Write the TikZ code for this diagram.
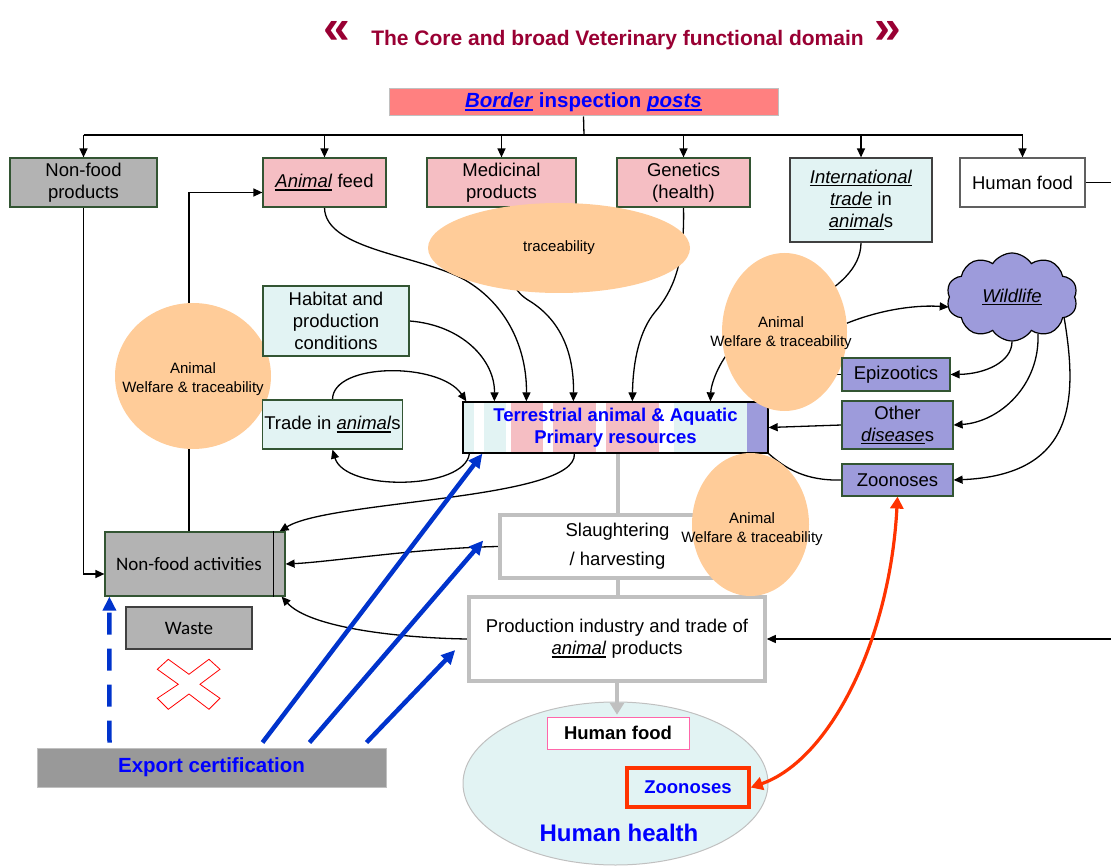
\documentclass[tikz,border=0pt]{standalone}
\usepackage{fontspec}
\setmainfont{Liberation Sans}
\newfontfamily\carlito{Carlito}
\usetikzlibrary{arrows.meta,shapes.geometric,shapes.symbols,calc}
\pgfdeclarelayer{bg}
\pgfsetlayers{bg,main}
\definecolor{salmon}{RGB}{255,128,128}
\definecolor{pinkc}{RGB}{245,190,195}
\definecolor{lcyan}{RGB}{226,243,243}
\definecolor{grayc}{RGB}{179,179,179}
\definecolor{exgray}{RGB}{153,153,153}
\definecolor{dkgreen}{RGB}{51,85,51}
\definecolor{peach}{RGB}{255,204,153}
\definecolor{purp}{RGB}{157,155,219}
\definecolor{tblue}{RGB}{0,0,255}
\definecolor{barc}{RGB}{0,51,204}
\definecolor{tred}{RGB}{153,0,51}
\definecolor{redo}{RGB}{255,51,0}
\definecolor{lgray}{RGB}{192,192,192}
\definecolor{dkgray}{RGB}{64,64,64}
\definecolor{mgray}{RGB}{96,96,96}
\definecolor{hpink}{RGB}{255,102,170}
\newcommand{\myul}[1]{\leavevmode\setbox0\hbox{#1}\rlap{\rule[-0.15em]{\wd0}{0.075em}}\box0\relax}
\newcommand{\fsbox}{\fontsize{18.5}{22}\selectfont}
\newcommand{\fsell}{\fontsize{15}{19}\selectfont}
\begin{document}
\begin{tikzpicture}[x=1pt,y=-1pt,
  box/.style={draw=dkgreen, line width=1.2pt, inner sep=2pt, align=center, font=\fsbox, text=black},
  gbox/.style={draw=lgray, line width=3.5pt, fill=white, inner sep=2pt, align=center, font=\fsbox},
  ell/.style={ellipse, fill=peach, draw=none, inner sep=0pt},
  elltext/.style={font=\fsell, align=center, inner sep=0pt},
  conn/.style={line width=1.3pt},
  arr/.style={line width=1.3pt, -{Triangle[length=9pt,width=8pt]}},
  barr/.style={draw=barc, line width=4.5pt, -{Triangle[length=14pt,width=13pt]}},
  gline/.style={draw=lgray, line width=4pt},
  redarr/.style={draw=redo, line width=3.2pt, {Triangle[length=12pt,width=13pt]}-{Triangle[length=12pt,width=13pt]}}
]
\useasboundingbox (0,0) rectangle (1111,866);

% title
\node[font=\fontsize{21}{24}\selectfont\bfseries, text=tred, anchor=base] (title) at (617.5,46) {The Core and broad Veterinary functional domain};
\node[font=\fontsize{48}{50}\selectfont\bfseries, text=tred] (lq) at (337,32) {«};
\node[font=\fontsize{48}{50}\selectfont\bfseries, text=tred] (rq) at (888,32) {»};

\coordinate (bus) at (584,135);

% top row
\node[box, fill=salmon, draw=lgray, line width=1pt, minimum width=389pt, minimum height=27pt, font=\fontsize{20.5}{24}\selectfont\bfseries, text=tblue] (bip) at (583.5,102.5) {\myul{\textit{Border}} inspection \myul{\textit{posts}}};
\node[box, fill=grayc, minimum width=147pt, minimum height=49pt] (nfp) at (83.5,182.5) {Non-food\\products};
\node[box, fill=pinkc, minimum width=123pt, minimum height=49pt] (afeed) at (324.5,182.5) {\myul{\textit{Animal}} feed};
\node[box, fill=pinkc, minimum width=149pt, minimum height=49pt] (med) at (501.5,182.5) {Medicinal\\products};
\node[box, fill=pinkc, minimum width=133pt, minimum height=49pt] (gen) at (683.5,182.5) {Genetics\\(health)};
\node[box, fill=lcyan, draw=dkgray, minimum width=142pt, minimum height=84pt] (intl) at (861,200) {\myul{\textit{International}}\\\myul{\textit{trade}} in\\\myul{\textit{animal}}s};
\node[box, fill=white, draw=mgray, minimum width=125pt, minimum height=49pt] (hfood) at (1022.5,182.5) {Human food};

% left side
\node[ell, minimum width=156pt, minimum height=146pt] (lcirc) at (193,376) {};
\node[elltext] (lcirctx) at (193,379) {Animal\\Welfare \& traceability};
\node[box, fill=lcyan, minimum width=146pt, minimum height=70pt] (habitat) at (336,321) {Habitat and\\production\\conditions};
\node[box, fill=lcyan, minimum width=139pt, minimum height=49pt] (trade) at (332.5,424.5) {Trade in \myul{\textit{animal}}s};
\node[box, fill=grayc, minimum width=180pt, minimum height=64pt, font=\carlito\fontsize{19}{22}\selectfont] (nfa) at (195,564) {Non-food activities\hspace{12pt}};
\draw[line width=1.2pt] ([xshift=-12pt]nfa.north east) -- ([xshift=-12pt]nfa.south east);
\node[box, fill=grayc, draw=dkgray, minimum width=126pt, minimum height=42pt, font=\carlito\fontsize{19}{22}\selectfont] (waste) at (189,628) {Waste};
\draw[red, line width=0.8pt] (168.3,659.3) -- (189,674.3) -- (209,659.3) -- (220,669.3) -- (200,684.3) -- (220,698.3) -- (209,709.3) -- (189,694) -- (168.3,709.3) -- (157.3,698.3) -- (178.3,684.3) -- (157.3,669.3) -- cycle;
\node[box, fill=exgray, draw=lgray, line width=1pt, minimum width=349pt, minimum height=39pt, font=\fontsize{20.5}{24}\selectfont\bfseries, text=tblue] (export) at (211.5,767.5) {Export certification};

% terrestrial stripes
\foreach \a/\b/\c in {463/474/lcyan, 474/484/white, 484/506/lcyan, 506/511/white, 511/543/pinkc, 543/553/white, 553/596/pinkc, 596/606/white, 606/659/pinkc, 659/674/white, 674/747/lcyan, 747/768/purp}
  \fill[\c] (\a,402) rectangle (\b,453);
\node[draw=black, line width=1.3pt, minimum width=305pt, minimum height=51pt, inner sep=0pt, align=center, font=\fontsize{18.5}{22}\selectfont\bfseries, text=tblue] (terr) at (615.5,427.5) {Terrestrial animal \& Aquatic\\Primary resources};

% traceability ellipse
\node[ell, minimum width=262pt, minimum height=90pt] (trace) at (559,248) {};
\node[elltext] (tracetx) at (559,248) {traceability};

% production chain
\node[gbox, minimum width=235pt, minimum height=63pt] (slaughter) at (617.5,546.5) {Slaughtering\\[7pt]/ harvesting};
\node[gbox, minimum width=296pt, minimum height=84pt] (prod) at (617,639) {Production industry and trade of\\\myul{\textit{animal}} products};

% right ellipses
\node[ell, minimum width=125pt, minimum height=158pt] (rell1) at (784.5,332) {};
\node[elltext] (rell1tx) at (781,333) {Animal\\Welfare \& traceability};
\node[ell, minimum width=117pt, minimum height=143pt] (rell2) at (750.5,524.5) {};
\node[elltext] (rell2tx) at (752,529) {Animal\\Welfare \& traceability};

% wildlife and diseases
\node[cloud, cloud puffs=10, cloud puff arc=115, aspect=1.5, minimum width=131pt, minimum height=88pt, inner sep=0pt, fill=purp, draw=black, line width=1.2pt, font=\fsbox] (wild) at (1012,297) {\myul{\textit{Wildlife}}};
\node[box, fill=purp, minimum width=108pt, minimum height=33pt] (epi) at (896,374.5) {Epizootics};
\node[box, fill=purp, minimum width=111pt, minimum height=48pt] (other) at (897.5,425) {Other\\\myul{\textit{disease}}s};
\node[box, fill=purp, minimum width=111pt, minimum height=32pt] (zoo) at (897.5,480) {Zoonoses};

% human health
\node[ellipse, fill=lcyan, draw=lgray, line width=1pt, minimum width=305pt, minimum height=163pt, inner sep=0pt] (hh) at (615.5,783.5) {};
\node[font=\fontsize{24}{28}\selectfont\bfseries, text=tblue, inner sep=0pt] (hhtx) at (619,833) {Human health};
\node[draw=hpink, fill=white, line width=1pt, minimum width=142pt, minimum height=32pt, inner sep=0pt, font=\fontsize{18.5}{22}\selectfont\bfseries] (hfood2) at (618,733) {Human food};
\node[draw=redo, line width=3.5pt, minimum width=122pt, minimum height=39pt, inner sep=0pt, font=\fontsize{18.5}{22}\selectfont\bfseries, text=tblue] (zoo2) at (688,787.5) {Zoonoses};

\draw[gline, -{Triangle[length=12pt,width=14pt]}] (prod.south) -- ++(0,32);
\draw[redarr] (zoo.south) .. controls (890,640) and (830,760) .. (zoo2.east);

\begin{pgfonlayer}{bg}
\draw[conn] (bip.south) -- (bus);
\draw[conn] (nfp.north|-bus) -- (hfood.north|-bus);
\foreach \n in {nfp,afeed,med,gen,intl,hfood} \draw[arr] (\n.north|-bus) -- (\n.north);
\draw[arr] (hfood.east) -- ++(29,0) |- (prod.east);
\draw[arr] (afeed.south) .. controls (325,250) and (420,255) .. (465,280) .. controls (508,305) and (527,350) .. ([xshift=64pt]terr.north west);
\draw[arr] (med.south) .. controls (502,270) and (512,290) .. (528,300) .. controls (565,322) and (574,360) .. ([xshift=111pt]terr.north west);
\draw[arr] (gen.south) .. controls (685,265) and (672,292) .. (655,312) .. controls (640,330) and (633,360) .. ([xshift=170pt]terr.north west);
\draw[arr] (habitat.east) .. controls (462,325) and (495,360) .. ([xshift=32pt]terr.north west);
\draw[arr] (trade.north) .. controls (333,362) and (440,362) .. ([xshift=4pt]terr.north west);
\draw[arr] ([xshift=7pt]terr.south west) .. controls (465,490) and (345,492) .. (trade.south);
\draw[arr] ([xshift=112pt]terr.south west) .. controls (578,500) and (330,500) .. ([xshift=-6pt]nfa.north east);
\draw[arr] (slaughter.west) .. controls (420,548) and (330,562) .. (nfa.east);
\draw[arr] (prod.west) .. controls (400,638) and (310,628) .. ([xshift=-4pt]nfa.south east);
\draw[arr] (nfp.south) |- ([yshift=-10pt]nfa.west);
\draw[arr] ([xshift=-6pt]nfa.north) |- ([yshift=-10pt]afeed.west);
\draw[arr] (intl.south) .. controls (861,295) and (765,318) .. (735,345) .. controls (718,362) and (711,385) .. ([xshift=248pt]terr.north west);
\draw[arr] (rell1.8) .. controls (885,308) and (920,305) .. ([yshift=-10pt]wild.west);
\draw[conn] (epi.west) -- (epi.west -| rell1.center);
\draw[arr] (other.west) -- (terr.east);
\draw[conn] (zoo.west) .. controls (805,481) and (785,468) .. (terr.south east);
\draw[arr] (wild.south) .. controls (1012,362) and (985,374) .. (epi.east);
\draw[arr] (wild.-55) .. controls (1040,385) and (1000,422) .. (other.east);
\draw[arr] (wild.-22) .. controls (1078,400) and (1075,475) .. (zoo.east);
\draw[barr] ([xshift=226pt,yshift=5pt]export.north west) -- ([xshift=20pt]terr.south west);
\draw[barr] ([xshift=273pt,yshift=5pt]export.north west) -- ([xshift=-15pt,yshift=6pt]slaughter.west);
\draw[barr] ([xshift=330pt,yshift=5pt]export.north west) -- ([xshift=-12pt,yshift=-11pt]prod.west);
\draw[barr, dash pattern=on 22pt off 14pt] ([xshift=73pt,yshift=5pt]export.north west) -- ([xshift=5pt]nfa.south west);
\draw[gline] (slaughter.north|-terr.south) -- (slaughter.north);
\draw[gline] (slaughter.south) -- (slaughter.south|-prod.north);
\end{pgfonlayer}
\end{tikzpicture}
\end{document}
